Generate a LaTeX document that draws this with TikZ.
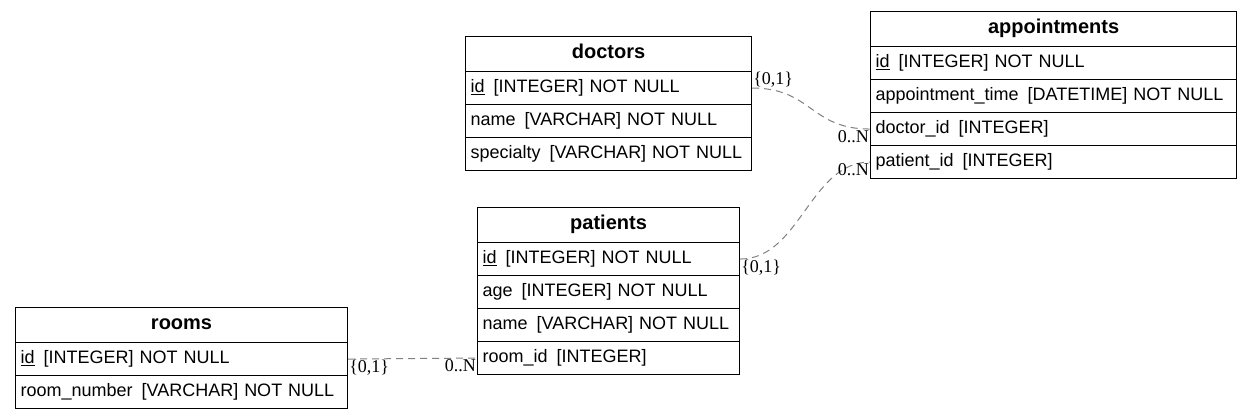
\documentclass[tikz,border=0pt]{standalone}
\usepackage{fontspec}
\setmainfont{Liberation Sans}
\newfontfamily\cardfont{Liberation Serif}
\newcommand\colgap{\hspace{9pt}}
\begin{document}
\begin{tikzpicture}[x=1pt,y=1pt,
    head/.style={draw,line width=1.1pt,anchor=north west,minimum width=#1,minimum height=35pt,
      inner sep=0pt,font=\bfseries\fontsize{20}{24}\selectfont},
    field/.style={draw,line width=1.1pt,anchor=north west,text width=#1,align=left,minimum height=33pt,
      inner xsep=5pt,inner ysep=0pt,font=\fontsize{18}{22}\selectfont},
    link/.style={draw=gray,line width=1pt,dash pattern=on 7pt off 5pt},
    card/.style={inner sep=1pt,font=\cardfont\fontsize{18}{20}\selectfont}]
    \useasboundingbox (0,0) rectangle (1251,-419);

    % doctors
    \node[head=286pt] (doc) at (465,-36) {doctors\strut};
    \node[field=276pt] (doc-id) at (465,-71) {\underline{id}\colgap[INTEGER] NOT NULL\strut};
    \node[field=276pt] (doc-name) at (465,-104) {name\colgap[VARCHAR] NOT NULL\strut};
    \node[field=276pt] (doc-spec) at (465,-137) {specialty\colgap[VARCHAR] NOT NULL\strut};

    % appointments
    \node[head=366pt] (app) at (870,-11) {appointments\strut};
    \node[field=356pt] (app-id) at (870,-46) {\underline{id}\colgap[INTEGER] NOT NULL\strut};
    \node[field=356pt] (app-time) at (870,-79) {appointment\_time\colgap[DATETIME] NOT NULL\strut};
    \node[field=356pt] (app-doc) at (870,-112) {doctor\_id\colgap[INTEGER]\strut};
    \node[field=356pt] (app-pat) at (870,-145) {patient\_id\colgap[INTEGER]\strut};

    % patients
    \node[head=262pt] (pat) at (477,-207) {patients\strut};
    \node[field=252pt] (pat-id) at (477,-242) {\underline{id}\colgap[INTEGER] NOT NULL\strut};
    \node[field=252pt] (pat-age) at (477,-275) {age\colgap[INTEGER] NOT NULL\strut};
    \node[field=252pt] (pat-name) at (477,-308) {name\colgap[VARCHAR] NOT NULL\strut};
    \node[field=252pt] (pat-room) at (477,-341) {room\_id\colgap[INTEGER]\strut};

    % rooms
    \node[head=332pt] (room) at (15,-307) {rooms\strut};
    \node[field=322pt] (room-id) at (15,-342) {\underline{id}\colgap[INTEGER] NOT NULL\strut};
    \node[field=322pt] (room-num) at (15,-375) {room\_number\colgap[VARCHAR] NOT NULL\strut};

    % relations
    \draw[link] (doc-id.east) .. controls +(60,0) and +(-60,0) .. (app-doc.west);
    \draw[link] (pat-id.east) .. controls +(60,0) and +(-60,0) .. (app-pat.west);
    \draw[link] (room-id.east) -- (pat-room.west);

    \node[card,anchor=south west] (doc-one) at (doc-id.east) {\{0,1\}};
    \node[card,anchor=north east] (app-doc-n) at (app-doc.west) {0..N};
    \node[card,anchor=north west] (pat-one) at (pat-id.east) {\{0,1\}};
    \node[card,anchor=north east] (app-pat-n) at (app-pat.west) {0..N};
    \node[card,anchor=north west] (room-one) at (room-id.east) {\{0,1\}};
    \node[card,anchor=north east] (pat-room-n) at (pat-room.west) {0..N};
  \end{tikzpicture}
\end{document}
